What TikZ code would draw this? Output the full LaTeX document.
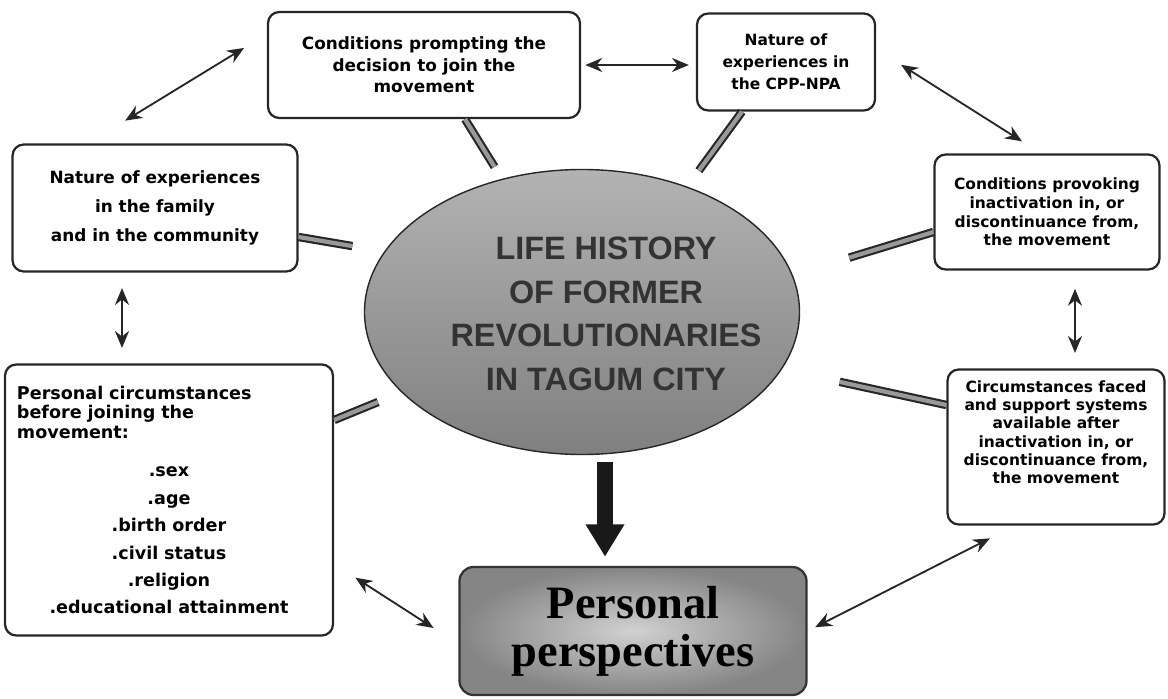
\documentclass[tikz,border=0pt]{standalone}
\usepackage{fontspec}
\setmainfont{DejaVu Sans}
\newfontfamily\headfont{Liberation Sans}
\newfontfamily\persfont{Liberation Serif}
\usetikzlibrary{arrows.meta,shapes.geometric,calc}

\begin{document}
\begin{tikzpicture}[
      dbl/.style={{Stealth[length=12pt,width=10pt]}-{Stealth[length=12pt,width=10pt]},
                  line width=1.3pt, black!85},
      feed/.style={draw=black!85, double=black!40, double distance=3pt, line width=1.5pt},
      bigarr/.style={-{Triangle[width=26pt,length=23pt]}, line width=12pt, black!90},
      card/.style={draw=black!85, line width=1.6pt, rounded corners=8pt, fill=white,
                   align=center, inner sep=3pt}
    ]
    \useasboundingbox (0,0) rectangle (29.2,17.45);

    % centre
    \node[ellipse, draw=black!85, line width=1pt, top color=black!30, bottom color=black!50,
          minimum width=10.875cm, minimum height=7.125cm] (life) at (14.55,9.65) {};
    \node[align=center, text=black!80, font=\headfont\bfseries\fontsize{23}{31}\selectfont]
          (lifetext) at ([xshift=0.6cm,yshift=-0.05cm]life.center)
          {LIFE HISTORY\\OF FORMER\\REVOLUTIONARIES\\IN TAGUM CITY};

    % boxes
    \node[card, minimum width=7.8cm, minimum height=2.65cm,
          font=\bfseries\fontsize{12}{15.3}\selectfont] (condjoin) at (10.6,15.825)
          {Conditions prompting the\\decision to join the\\movement};
    \node[card, minimum width=4.45cm, minimum height=2.425cm,
          font=\bfseries\fontsize{11}{15.6}\selectfont] (expnpa) at (19.65,15.9)
          {Nature of\\experiences in\\the CPP-NPA};
    \node[card, minimum width=7.125cm, minimum height=3.175cm,
          font=\bfseries\fontsize{12}{20.6}\selectfont] (expfam) at (3.875,12.25)
          {Nature of experiences\\in the family\\and in the community};
    \node[card, minimum width=5.625cm, minimum height=2.875cm,
          font=\bfseries\fontsize{11}{13.2}\selectfont] (condinact) at (26.175,12.15)
          {Conditions provoking\\inactivation in, or\\discontinuance from,\\the movement};
    \node[card, minimum width=5.425cm, minimum height=3.875cm,
          font=\bfseries\fontsize{11}{13}\selectfont] (afterinact) at (26.4,6.275)
          {Circumstances faced\\and support systems\\available after\\inactivation in, or\\discontinuance from,\\the movement\\[8pt]\mbox{}};
    \node[card, minimum width=8.2cm, minimum height=6.775cm, text width=7.6cm, align=left,
          font=\bfseries\fontsize{12.5}{13.9}\selectfont] (perscirc) at (4.225,4.95)
          {Personal circumstances\\before joining the\\movement:\par\vspace{8pt}
           {\centering\fontsize{12.5}{19.5}\selectfont
            .sex\\.age\\.birth order\\.civil status\\.religion\\.educational attainment\par}};
    \node[draw=black!80, line width=1.6pt, rounded corners=10pt, inner color=black!18,
          outer color=black!48, minimum width=8.675cm, minimum height=3.2cm, align=center,
          font=\persfont\bfseries\fontsize{33}{34}\selectfont] (persp) at (15.825,1.675)
          {Personal\\perspectives};

    % into the centre
    \draw[feed, shorten >=10pt] ([xshift=1.025cm]condjoin.south) -- (life.121);
    \draw[feed, shorten >=14pt] ([xshift=-1.1cm]expnpa.south) -- (life.50);
    \draw[feed, shorten >=23pt] ([yshift=-0.725cm]expfam.east) -- (life.163);
    \draw[feed, shorten >=42pt] ([yshift=-0.5cm]condinact.west) -- (life.10);
    \draw[feed, shorten >=18pt] ([yshift=2cm]perscirc.east) -- (life.204);
    \draw[feed, shorten >=42pt] ([yshift=1.05cm]afterinact.west) -- (life.-16);
    \draw[bigarr, shorten <=5pt, shorten >=6.5pt]
          ([xshift=0.575cm]life.south) -- ([xshift=0.575cm]life.south |- persp.north);

    % around
    \draw[dbl, shorten <=3pt, shorten >=5pt] (condjoin.east) -- (condjoin.east -| expnpa.west);
    \draw[dbl, shorten <=19pt, shorten >=31pt] ([yshift=0.775cm]condjoin.west) -- ([xshift=-1.675cm]expfam.north);
    \draw[dbl, shorten <=21pt, shorten >=16pt] ([yshift=0.325cm]expnpa.east) -- ([xshift=-0.15cm]condinact.north);
    \draw[dbl, shorten <=11pt, shorten >=11pt] ([xshift=-0.825cm]expfam.south) -- ([xshift=-0.825cm]expfam.south |- perscirc.north);
    \draw[dbl, shorten <=13pt, shorten >=11pt] ([xshift=0.7cm]condinact.south) -- ([xshift=0.7cm]condinact.south |- afterinact.north);
    \draw[dbl, shorten <=18pt, shorten >=21pt] ([yshift=-1.6cm]perscirc.east) -- ([yshift=-0.325cm]persp.west);
    \draw[dbl, shorten <=6pt, shorten >=20pt] (persp.east) -- ([xshift=-1.025cm]afterinact.south);
  \end{tikzpicture}
\end{document}
